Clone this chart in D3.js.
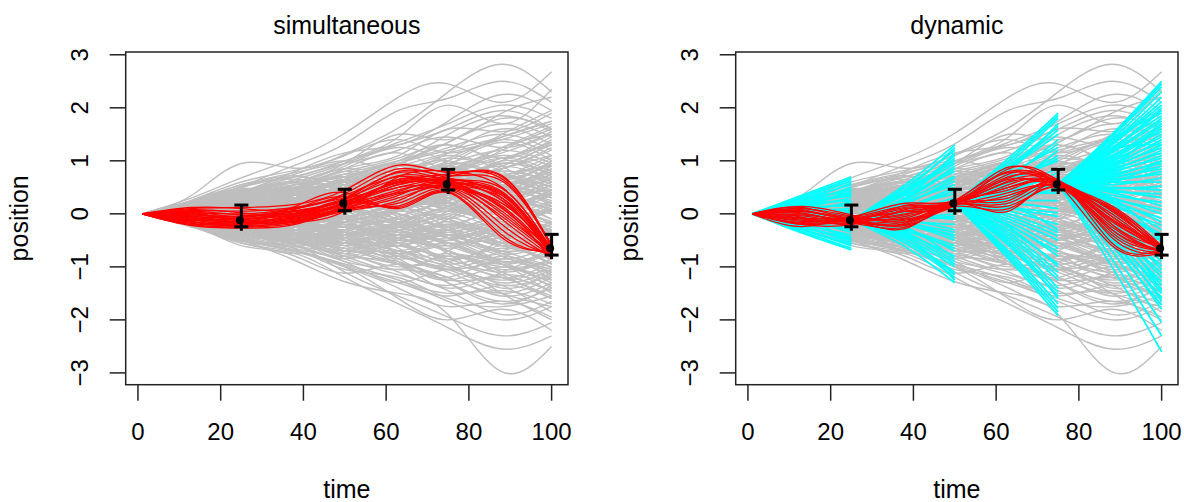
<!DOCTYPE html>
<html>
<head>
<meta charset="utf-8">
<script src="https://cdn.jsdelivr.net/npm/d3@7"></script>
<style>
  html, body { margin: 0; padding: 0; background: #fff; }
  svg { display: block; }
  text { font-family: "Liberation Sans", Arial, sans-serif; fill: #000; }
</style>
</head>
<body>
<svg id="chart" width="1184" height="502"></svg>
<script>
// ---------------- DATA ----------------
const panelTitles = ["simultaneous", "dynamic"];
const xLabel = "time";
const yLabel = "position";
const xTicks = [0, 20, 40, 60, 80, 100];
const yTicks = [-3, -2, -1, 0, 1, 2, 3];
const timeRange = [1, 100];
const positionRange = [-2.99, 2.82];

// knot times of every trajectory (value at time 1 is the start value)
const knotTimes = [1, 13, 25, 38, 50, 63, 75, 88, 100];
const startValue = 0;

// grey simulated trajectories: values at times 13,25,38,50,63,75,88,100
const grayCurves = [
[0.35,0.95,0.86,1.12,1.62,2.3,2.82,2.3],
[0.3,0.68,1.05,1.52,2.2,2.45,2.1,2.68],
[0.24,0.52,0.92,1.32,1.95,2.18,2.5,2.1],
[0.2,0.55,0.7,1.0,1.45,2.05,1.7,2.35],
[0.18,0.42,0.8,1.15,1.3,1.75,2.25,1.95],
[0.15,0.38,0.6,0.95,1.5,1.4,1.9,2.2],
[0.22,0.46,0.5,0.85,1.1,1.6,1.55,1.9],
[0.12,0.3,0.55,0.7,1.0,1.35,1.8,1.6],
[0.1,0.35,0.4,0.6,0.95,1.2,1.45,1.75],
[0.16,0.25,0.48,0.75,0.8,1.15,1.6,1.3],
[0.08,0.28,0.35,0.55,0.9,0.85,1.25,1.5],
[0.14,0.2,0.42,0.45,0.7,1.05,0.95,1.35],
[0.05,0.22,0.3,0.62,0.6,0.8,1.1,0.9],
[0.11,0.18,0.25,0.4,0.75,0.7,0.85,1.2],
[0.06,0.15,0.38,0.3,0.5,0.9,0.65,1.0],
[0.09,0.26,0.2,0.35,0.42,0.6,0.95,0.75],
[0.03,0.12,0.22,0.5,0.35,0.55,0.7,0.5],
[0.07,0.1,0.15,0.25,0.55,0.4,0.5,0.85],
[0.02,0.08,0.28,0.2,0.3,0.65,0.4,0.6],
[0.04,0.16,0.1,0.3,0.2,0.3,0.55,0.3],
[-0.02,0.05,0.18,0.1,0.25,0.15,0.3,0.45],
[0.01,-0.04,0.08,0.22,0.1,0.35,0.2,0.15],
[-0.05,0.02,-0.05,0.05,0.28,0.1,0.05,0.35],
[0.03,-0.08,0.1,-0.1,0.05,0.2,-0.1,0.1],
[-0.06,-0.1,-0.02,0.12,-0.15,0.0,0.15,-0.2],
[-0.03,-0.12,-0.2,-0.05,0.0,-0.25,-0.05,0.05],
[-0.08,-0.05,-0.15,-0.25,-0.1,-0.05,-0.35,-0.15],
[-0.1,-0.18,-0.1,-0.2,-0.4,-0.3,-0.2,-0.5],
[-0.04,-0.2,-0.3,-0.15,-0.3,-0.55,-0.45,-0.3],
[-0.12,-0.15,-0.35,-0.4,-0.25,-0.45,-0.7,-0.6],
[-0.07,-0.25,-0.25,-0.5,-0.6,-0.4,-0.6,-0.85],
[-0.14,-0.3,-0.45,-0.35,-0.55,-0.8,-0.75,-0.55],
[-0.09,-0.22,-0.4,-0.6,-0.5,-0.7,-1.0,-0.9],
[-0.16,-0.35,-0.38,-0.55,-0.85,-0.75,-0.95,-1.2],
[-0.11,-0.28,-0.5,-0.7,-0.75,-1.05,-0.9,-1.1],
[-0.18,-0.4,-0.55,-0.65,-0.95,-1.0,-1.3,-1.05],
[-0.13,-0.32,-0.48,-0.8,-0.9,-1.25,-1.2,-1.45],
[-0.2,-0.45,-0.62,-0.75,-1.1,-1.35,-1.15,-1.35],
[-0.15,-0.38,-0.58,-0.9,-1.05,-1.2,-1.55,-1.3],
[-0.22,-0.5,-0.7,-0.95,-1.25,-1.5,-1.45,-1.7],
[-0.17,-0.42,-0.66,-1.05,-1.2,-1.6,-1.75,-1.55],
[-0.24,-0.55,-0.72,-1.0,-1.4,-1.75,-1.65,-1.95],
[-0.2,-0.6,-0.75,-1.2,-1.7,-2.15,-2.55,-2.3],
[-0.25,-0.5,-0.88,-1.28,-1.5,-1.9,-2.98,-2.5],
[-0.15,-0.45,-0.7,-1.0,-1.6,-2.0,-1.8,-2.2],
[-0.18,-0.52,-0.6,-1.1,-1.55,-1.95,-2.3,-2.05],
[0.2,0.3,0.1,0.4,0.9,1.3,0.9,0.4],
[-0.1,0.1,0.45,0.8,0.6,0.2,-0.3,-0.6],
[0.15,0.5,0.65,0.4,0.0,-0.45,-0.9,-1.3],
[-0.2,-0.35,-0.1,0.3,0.75,1.05,1.4,1.1],
[0.05,-0.2,-0.45,-0.3,0.1,0.6,1.0,1.45],
[0.18,0.4,0.25,-0.1,-0.5,-0.4,-0.75,-1.0],
[-0.12,-0.3,-0.6,-0.8,-0.5,-0.1,0.35,0.65],
[0.1,0.22,0.55,0.9,1.25,0.95,0.6,0.85],
[-0.05,-0.25,-0.15,-0.5,-0.95,-1.4,-1.1,-0.75],
[0.25,0.45,0.3,0.6,0.45,0.8,1.25,1.65],
[-0.15,-0.1,0.2,0.05,-0.3,-0.7,-1.15,-1.6],
[0.08,0.35,0.6,0.3,0.55,0.25,-0.2,0.1],
[-0.22,-0.45,-0.3,-0.7,-0.45,-0.85,-0.5,-0.2],
[0.12,-0.05,0.15,0.5,0.8,0.55,0.95,0.6],
[-0.08,0.15,-0.1,-0.35,-0.2,0.3,0.1,-0.35],
[0.2,0.15,0.4,0.2,-0.2,0.05,0.5,0.95],
[-0.18,-0.25,-0.5,-0.25,-0.65,-1.0,-1.35,-1.85],
[0.14,0.45,0.4,0.7,1.0,1.5,1.85,1.55],
[-0.05,-0.3,-0.55,-0.4,-0.85,-1.3,-1.65,-1.4],
[0.03,0.25,0.05,-0.25,-0.55,-0.9,-0.6,-0.95],
[-0.1,0.05,0.3,0.65,0.5,0.9,1.35,1.0],
[0.17,0.3,0.55,0.85,1.15,0.85,1.2,1.6],
[-0.14,-0.4,-0.25,0.1,0.4,0.2,-0.15,-0.5],
[0.06,0.2,-0.1,-0.3,0.05,0.45,0.8,0.55],
[-0.2,-0.35,-0.65,-0.9,-1.3,-1.05,-1.5,-2.0],
[0.1,0.38,0.7,0.55,0.75,1.1,0.8,0.35],
[-0.03,-0.15,0.1,0.35,0.1,-0.3,-0.55,-0.25],
[0.22,0.5,0.75,1.0,0.7,0.35,0.5,0.15],
[-0.16,-0.2,-0.42,-0.7,-1.0,-0.7,-0.3,-0.6],
[0.0,0.1,0.35,0.15,0.45,0.75,1.05,1.3],
[-0.12,-0.42,-0.35,-0.6,-0.35,-0.6,-0.95,-1.5],
[0.13,0.05,0.25,0.55,0.35,0.6,0.3,-0.1],
[-0.07,0.12,0.0,-0.2,-0.45,-0.25,0.1,0.4],
[0.19,0.35,0.15,0.45,0.85,0.6,0.25,0.55],
[-0.2,-0.25,-0.55,-0.45,-0.2,-0.45,-0.8,-1.15],
[0.09,0.3,0.45,0.25,0.65,1.0,1.5,1.95],
[-0.1,-0.35,-0.2,-0.45,-0.75,-0.55,-0.9,-0.65],
[0.05,-0.1,-0.3,-0.55,-0.4,-0.75,-1.2,-0.9],
[0.16,0.2,0.5,0.35,0.1,0.4,0.7,1.1],
[-0.13,-0.08,-0.3,-0.1,0.2,0.5,0.25,0.7],
[0.02,0.18,0.4,0.75,0.55,0.35,0.65,0.95],
[-0.19,-0.48,-0.75,-0.55,-0.9,-1.2,-0.85,-1.25],
[0.11,0.1,-0.15,0.0,0.35,0.15,-0.25,-0.6],
[-0.04,-0.18,-0.05,-0.35,-0.15,0.15,0.45,0.2],
[0.21,0.4,0.62,0.45,0.2,0.55,0.85,1.25],
[-0.11,-0.22,-0.4,-0.2,-0.5,-0.3,0.05,-0.4],
[0.07,0.32,0.18,0.42,0.25,-0.1,-0.45,-0.8],
[-0.17,-0.32,-0.15,-0.4,-0.7,-0.95,-1.4,-1.1],
[0.13,0.28,0.5,0.8,1.05,1.3,1.05,1.4],
[-0.06,0.08,0.2,-0.05,-0.35,-0.15,-0.5,-0.95],
[0.04,-0.12,-0.35,-0.15,0.15,-0.1,0.25,0.0],
[-0.21,-0.4,-0.2,-0.5,-0.8,-1.1,-1.5,-1.75],
[0.17,0.42,0.25,0.55,0.95,1.35,1.7,1.45],
[-0.09,-0.15,0.05,0.3,0.6,0.35,0.0,-0.3],
[0.1,0.15,0.3,0.1,-0.15,-0.5,-0.25,-0.7],
[-0.15,-0.28,-0.48,-0.3,-0.05,0.25,0.6,0.9],
[0.2,0.35,0.35,0.65,0.5,0.7,0.45,0.75],
[-0.02,-0.22,-0.1,0.15,0.4,0.7,0.55,0.2],
[0.06,0.05,-0.2,-0.45,-0.7,-0.45,-0.75,-1.05],
[-0.13,-0.05,0.1,-0.15,0.05,-0.25,-0.6,-0.4],
[0.15,0.32,0.48,0.6,0.9,0.65,1.0,0.7],
[-0.2,-0.45,-0.5,-0.85,-0.6,-0.95,-1.25,-1.0],
[0.0,0.2,0.15,-0.1,0.15,0.45,0.3,0.55],
[-0.07,-0.28,-0.45,-0.65,-0.95,-1.25,-1.0,-1.4],
[0.12,0.25,0.05,0.2,0.45,0.25,0.6,0.35],
[-0.1,-0.05,-0.25,-0.45,-0.25,-0.55,-0.3,0.1],
[0.18,0.38,0.65,0.95,1.35,1.7,2.05,1.8],
[-0.16,-0.38,-0.52,-0.85,-1.15,-1.45,-1.9,-1.65],
[0.08,0.1,0.28,0.5,0.3,0.05,0.35,0.65],
[-0.05,-0.2,-0.4,-0.25,-0.45,-0.2,-0.45,-0.75],
[0.26,0.6,0.82,1.1,1.4,1.15,1.45,1.75],
[-0.23,-0.55,-0.8,-1.12,-0.95,-1.3,-1.7,-1.35],
[0.14,0.12,0.35,0.2,0.6,0.95,0.75,0.45],
[-0.12,-0.3,-0.15,0.05,-0.2,-0.5,-0.2,-0.45],
[0.1,0.2,0.05,0.25,0.5,0.3,0.7,0.9],
[-0.1,-0.05,0.2,0.4,0.2,0.55,0.35,0.1],
[0.05,0.3,0.5,0.35,0.7,0.95,1.2,0.95],
[-0.05,-0.25,-0.1,-0.4,-0.2,0.1,-0.25,-0.55],
[0.15,0.1,0.3,0.6,0.4,0.2,0.45,0.2],
[-0.15,-0.35,-0.2,0.0,0.3,0.1,0.4,0.75],
[0.08,0.25,0.1,-0.15,-0.4,-0.2,-0.55,-0.3],
[-0.08,0.05,-0.2,-0.05,-0.35,-0.65,-0.45,-0.8],
[0.2,0.4,0.3,0.5,0.8,1.0,0.75,1.05],
[-0.2,-0.3,-0.5,-0.35,-0.6,-0.4,-0.75,-0.5],
[0.0,-0.1,0.15,-0.05,0.2,0.5,0.8,0.6],
[0.12,0.28,0.45,0.7,0.5,0.75,0.55,0.9],
[-0.12,-0.2,-0.38,-0.6,-0.8,-0.6,-0.95,-1.25],
[0.04,0.18,-0.05,0.15,0.45,0.65,0.4,0.15],
[-0.04,-0.15,0.05,-0.2,0.0,-0.3,-0.1,0.25],
[0.16,0.35,0.55,0.45,0.25,0.5,0.2,-0.15],
[-0.16,-0.4,-0.3,-0.55,-0.4,-0.7,-1.05,-0.85],
[0.06,-0.05,-0.25,-0.1,-0.4,-0.1,0.2,-0.1],
[-0.06,0.1,0.25,0.5,0.8,0.6,0.9,1.3],
[0.18,0.22,0.05,0.3,0.15,-0.15,-0.4,-0.15],
[-0.18,-0.3,-0.45,-0.7,-0.55,-0.85,-0.65,-0.95],
[0.1,0.35,0.25,0.05,0.3,0.1,0.45,0.8],
[-0.1,-0.32,-0.55,-0.35,-0.15,-0.4,-0.2,-0.6],
[0.02,0.12,0.3,0.55,0.75,0.5,0.2,0.45],
[-0.02,0.08,-0.12,-0.35,-0.6,-0.85,-1.1,-0.85],
[0.14,0.3,0.15,0.35,0.6,0.85,0.6,0.3],
[-0.14,-0.18,0.0,0.2,0.0,-0.2,0.1,0.35],
[0.07,0.15,0.35,0.2,-0.05,-0.35,-0.1,-0.45],
[-0.07,-0.22,-0.05,0.25,0.5,0.75,1.05,0.8],
[0.22,0.48,0.4,0.65,0.95,0.7,1.0,1.35],
[-0.22,-0.42,-0.62,-0.45,-0.75,-1.05,-0.8,-1.15],
[0.09,0.05,0.2,0.0,-0.25,0.0,-0.35,-0.6],
[-0.09,-0.1,-0.3,-0.5,-0.3,-0.05,0.3,0.05],
[0.13,0.4,0.6,0.85,0.65,0.4,0.7,0.5],
[-0.13,-0.28,-0.15,-0.35,-0.6,-0.35,-0.6,-0.3],
[0.05,0.2,0.4,0.25,0.5,0.3,0.1,0.4],
[-0.05,-0.12,-0.3,-0.15,0.1,0.35,0.15,-0.15],
[0.17,0.25,0.45,0.75,1.0,1.25,1.5,1.2],
[-0.17,-0.35,-0.55,-0.8,-1.05,-0.8,-1.1,-1.45],
[0.01,0.1,-0.08,0.1,0.35,0.55,0.85,1.1],
[-0.01,-0.08,0.12,0.35,0.15,-0.1,-0.4,-0.7],
[0.11,0.32,0.2,-0.05,0.2,0.4,0.15,0.45],
[-0.11,-0.25,-0.4,-0.2,-0.45,-0.7,-0.95,-0.7],
[0.19,0.45,0.35,0.6,0.4,0.65,0.9,0.65],
[-0.19,-0.38,-0.25,-0.5,-0.75,-0.5,-0.3,-0.55],
[0.03,-0.08,0.1,0.3,0.05,0.3,0.6,0.35],
[-0.03,0.12,0.3,0.15,-0.1,-0.3,-0.05,-0.35],
[0.15,0.38,0.58,0.4,0.6,0.9,1.15,1.5],
[-0.15,-0.3,-0.5,-0.75,-0.95,-1.2,-1.5,-1.2],
[0.08,0.22,0.08,0.3,0.55,0.4,0.65,0.5],
[-0.08,-0.18,-0.35,-0.15,-0.35,-0.6,-0.4,-0.7],
[0.12,0.2,0.35,0.15,0.35,0.15,-0.1,0.2],
[-0.12,-0.1,-0.2,-0.4,-0.25,0.05,-0.15,0.15],
[0.2,0.42,0.7,0.95,1.2,1.45,1.25,1.55],
[-0.2,-0.48,-0.68,-0.95,-1.25,-1.55,-1.35,-1.6],
[0.06,0.0,0.2,0.45,0.65,0.9,0.6,0.85],
[-0.06,-0.2,-0.45,-0.65,-0.45,-0.2,-0.55,-0.85],
[0.1,0.28,0.5,0.7,0.45,0.2,-0.05,-0.35],
[-0.1,-0.28,-0.1,0.1,-0.1,-0.4,-0.7,-1.0],
[0.04,0.15,0.0,0.2,0.4,0.2,0.5,0.3],
[-0.04,-0.2,-0.05,-0.25,-0.05,0.2,0.0,-0.25],
[0.16,0.3,0.5,0.3,0.55,0.8,0.55,0.8],
[-0.16,-0.3,-0.2,-0.45,-0.7,-0.95,-0.7,-0.45],
[0.09,0.3,0.2,0.45,0.3,0.05,0.3,0.05],
[-0.09,-0.25,-0.45,-0.3,-0.55,-0.3,-0.55,-0.3],
[0.14,0.18,0.4,0.65,0.9,1.15,1.4,1.7],
[-0.14,-0.32,-0.52,-0.75,-0.6,-0.9,-1.2,-1.55],
[0.0,0.15,0.3,0.1,-0.15,0.1,-0.2,-0.5],
[0.02,-0.15,-0.35,-0.55,-0.8,-1.05,-1.35,-1.15],
[0.18,0.5,0.72,0.6,0.85,0.6,0.35,0.6],
[-0.18,-0.4,-0.2,0.05,0.35,0.6,0.4,0.7],
[0.07,0.28,0.45,0.65,0.95,0.75,0.5,0.25],
[-0.07,-0.15,-0.35,-0.55,-0.3,-0.55,-0.85,-0.6],
[0.13,0.35,0.2,0.4,0.2,0.45,0.25,0.0],
[-0.13,-0.35,-0.55,-0.4,-0.2,-0.45,-0.25,0.05],
[0.05,0.25,0.45,0.3,0.1,0.35,0.6,0.4],
[-0.05,-0.1,0.1,0.3,0.55,0.3,0.05,-0.2],
[0.24,0.55,0.78,1.0,1.3,1.6,1.95,1.6],
[-0.24,-0.5,-0.7,-0.98,-1.3,-1.65,-2.0,-1.75],
[0.11,0.05,-0.15,-0.35,-0.6,-0.35,-0.6,-0.35]
];

// red accepted trajectories, "simultaneous" panel (times 13..100)
const redSimultaneous = [
[0.1,0.12,0.18,0.45,0.92,0.78,0.7,-0.6],
[0.06,0.05,0.12,0.38,0.85,0.72,0.62,-0.62],
[0.12,0.1,0.05,0.3,0.78,0.65,0.48,-0.68],
[0.02,0.0,0.1,0.35,0.7,0.6,0.4,-0.7],
[-0.02,-0.05,0.05,0.28,0.65,0.58,0.35,-0.65],
[0.05,-0.02,0.0,0.22,0.6,0.55,0.3,-0.72],
[-0.05,-0.08,-0.02,0.2,0.55,0.62,0.25,-0.75],
[-0.08,-0.1,0.02,0.18,0.5,0.5,0.2,-0.68],
[0.0,-0.12,-0.05,0.15,0.45,0.56,0.15,-0.74],
[-0.1,-0.15,-0.08,0.12,0.42,0.6,0.1,-0.7],
[-0.12,-0.18,-0.1,0.1,0.38,0.52,0.05,-0.78],
[-0.15,-0.2,-0.12,0.08,0.35,0.58,0.0,-0.72],
[-0.18,-0.22,-0.15,0.06,0.3,0.5,-0.05,-0.76],
[-0.2,-0.25,-0.18,0.05,0.25,0.55,-0.1,-0.8],
[-0.22,-0.27,-0.2,0.1,0.2,0.48,-0.2,-0.82],
[-0.16,-0.2,-0.05,0.25,0.15,0.45,-0.3,-0.78],
[-0.06,-0.14,0.08,0.32,0.12,0.42,-0.4,-0.75],
[0.04,-0.06,0.14,0.4,0.1,0.4,-0.45,-0.7],
[-0.04,-0.16,-0.14,0.15,0.55,0.7,0.72,-0.62],
[0.08,0.02,-0.04,0.2,0.62,0.75,0.66,-0.58],
[-0.14,-0.24,-0.16,0.05,0.7,0.8,0.5,-0.66],
[-0.1,-0.2,0.0,0.28,0.8,0.68,0.35,-0.7],
[0.0,-0.1,0.06,0.24,0.6,0.62,0.25,-0.73],
[-0.02,-0.04,0.1,0.3,0.5,0.66,0.3,-0.8],
[-0.08,-0.18,-0.1,0.18,0.4,0.5,0.12,-0.85],
[0.03,-0.14,-0.06,0.22,0.58,0.54,0.2,-0.64],
[-0.12,-0.06,0.04,0.26,0.72,0.64,0.42,-0.76],
[-0.2,-0.12,-0.04,0.12,0.65,0.6,0.38,-0.68]
];

// red accepted trajectories, "dynamic" panel (times 13..100)
const redDynamic = [
[0.12,-0.05,0.15,0.25,0.88,0.6,0.15,-0.6],
[0.08,-0.1,0.1,0.22,0.8,0.58,0.1,-0.62],
[0.05,-0.08,0.05,0.2,0.7,0.62,0.05,-0.66],
[0.0,-0.12,0.0,0.18,0.6,0.55,0.0,-0.7],
[-0.04,-0.14,-0.05,0.2,0.5,0.57,-0.05,-0.64],
[-0.08,-0.1,-0.1,0.16,0.4,0.52,-0.12,-0.68],
[-0.12,-0.16,-0.15,0.22,0.3,0.6,-0.2,-0.72],
[-0.16,-0.12,-0.2,0.18,0.2,0.55,-0.3,-0.7],
[-0.2,-0.18,-0.25,0.14,0.1,0.5,-0.4,-0.74],
[-0.24,-0.14,-0.28,0.2,0.05,0.56,-0.55,-0.68],
[-0.1,-0.06,0.2,0.24,0.75,0.64,-0.1,-0.6],
[0.02,-0.16,-0.12,0.15,0.65,0.5,0.12,-0.66],
[-0.06,-0.2,0.08,0.2,0.55,0.58,-0.25,-0.72],
[0.1,-0.04,-0.08,0.26,0.45,0.6,-0.35,-0.7],
[-0.14,-0.1,0.12,0.18,0.35,0.54,0.05,-0.62],
[-0.02,-0.14,-0.18,0.22,0.25,0.58,-0.45,-0.76],
[0.06,-0.08,0.04,0.16,0.85,0.62,-0.15,-0.66],
[-0.18,-0.12,-0.02,0.2,0.15,0.52,-0.05,-0.7],
[-0.08,-0.16,0.16,0.24,0.68,0.56,-0.6,-0.74],
[0.04,-0.1,-0.22,0.18,0.5,0.6,-0.2,-0.64],
[-0.2,-0.2,0.05,0.2,0.62,0.58,-0.3,-0.68],
[0.14,-0.02,-0.15,0.24,0.78,0.54,0.08,-0.72]
];

// cyan proposal trajectories of the dynamic panel, per segment
const cyanSegmentTimes = [[1, 13, 25], [25, 38, 50], [50, 63, 75], [75, 88, 100]];
const cyanSegmentStart = [0, -0.12, 0.2, 0.56];
// each entry: [value at middle time, value at end time]
const cyanSegment1 = [[0.35,0.7],[0.3,0.62],[0.28,0.55],[0.2,0.5],[0.25,0.45],[0.15,0.4],[0.22,0.36],[0.12,0.3],[0.18,0.25],[0.08,0.2],[0.12,0.15],[0.05,0.1],[0.08,0.05],[0.0,0.0],[0.03,-0.05],[-0.05,-0.1],[-0.02,-0.15],[-0.1,-0.2],[-0.06,-0.25],[-0.15,-0.3],[-0.12,-0.35],[-0.2,-0.4],[-0.18,-0.45],[-0.25,-0.5],[-0.22,-0.55],[-0.3,-0.6],[-0.33,-0.65],[-0.36,-0.68],[0.1,0.48],[-0.08,-0.52],[0.32,0.66],[0.24,0.58],[0.16,0.42],[0.06,0.22],[-0.04,0.03],[-0.14,-0.28],[-0.24,-0.47],[-0.28,-0.58],[0.2,0.34],[-0.1,-0.12]];
const cyanSegment2 = [[0.55,1.3],[0.5,1.2],[0.4,1.1],[0.45,1.0],[0.3,0.9],[0.35,0.8],[0.25,0.72],[0.2,0.62],[0.22,0.55],[0.1,0.45],[0.15,0.38],[0.05,0.3],[0.0,0.2],[0.02,0.1],[-0.08,0.0],[-0.05,-0.1],[-0.15,-0.2],[-0.12,-0.3],[-0.22,-0.4],[-0.2,-0.5],[-0.3,-0.6],[-0.28,-0.7],[-0.38,-0.8],[-0.35,-0.9],[-0.45,-1.0],[-0.5,-1.1],[-0.55,-1.2],[-0.62,-1.3],[0.3,1.15],[-0.42,-1.25],[0.4,0.95],[-0.25,-0.85],[0.45,1.25],[0.38,1.05],[0.28,0.85],[0.12,0.5],[-0.02,0.25],[-0.1,-0.05],[-0.18,-0.35],[-0.32,-0.65],[-0.4,-0.95],[-0.5,-1.15],[0.18,0.68],[-0.15,-0.45]];
const cyanSegment3 = [[1.05,1.9],[0.95,1.8],[0.9,1.65],[0.85,1.5],[0.7,1.4],[0.75,1.25],[0.6,1.1],[0.65,1.0],[0.5,0.85],[0.45,0.7],[0.4,0.55],[0.35,0.4],[0.25,0.25],[0.2,0.1],[0.1,-0.05],[0.05,-0.2],[0.0,-0.35],[-0.1,-0.5],[-0.15,-0.65],[-0.2,-0.8],[-0.3,-0.95],[-0.35,-1.1],[-0.45,-1.25],[-0.5,-1.4],[-0.6,-1.55],[-0.7,-1.7],[-0.8,-1.85],[-0.85,-1.92],[0.8,1.7],[-0.55,-1.6],[0.55,1.2],[-0.25,-1.0],[0.3,0.6],[0.15,-0.3],[1.0,1.85],[0.88,1.58],[0.72,1.32],[0.58,1.05],[0.42,0.78],[0.28,0.48],[0.12,0.02],[-0.05,-0.42],[-0.22,-0.72],[-0.4,-1.18],[-0.55,-1.48],[-0.75,-1.78]];
const cyanSegment4 = [[1.5,2.5],[1.45,2.4],[1.35,2.2],[1.3,2.05],[1.2,1.95],[1.25,1.85],[1.15,1.75],[1.05,1.65],[1.1,1.55],[1.0,1.45],[0.95,1.35],[0.9,1.25],[0.85,1.15],[0.8,1.05],[0.75,0.95],[0.7,0.85],[0.65,0.75],[0.6,0.6],[0.5,0.45],[0.45,0.3],[0.4,0.15],[0.3,0.0],[0.25,-0.15],[0.2,-0.3],[0.1,-0.45],[0.05,-0.6],[0.0,-0.75],[-0.1,-0.9],[-0.15,-1.05],[-0.25,-1.2],[-0.3,-1.35],[-0.4,-1.5],[-0.45,-1.65],[-0.55,-1.8],[-0.7,-2.05],[-0.85,-2.3],[-1.0,-2.6],[1.4,1.9],[0.9,1.7],[0.3,-0.5],[-0.2,-1.45],[1.2,1.3],[0.6,1.0],[-0.5,-1.6],[1.48,2.45],[1.4,2.3],[1.32,2.12],[1.22,2.0],[1.18,1.8],[1.08,1.7],[1.02,1.6],[0.98,1.5],[0.92,1.4],[0.88,1.3],[0.82,1.2],[0.78,1.1],[0.72,1.0],[0.68,0.9],[0.62,0.8],[0.55,0.68],[0.48,0.52],[0.42,0.38],[0.35,0.22],[0.28,0.08],[0.22,-0.08],[0.15,-0.22],[0.08,-0.38],[0.02,-0.52],[-0.05,-0.68],[-0.12,-0.82],[-0.2,-0.98],[-0.28,-1.12],[-0.35,-1.28],[-0.42,-1.42],[-0.5,-1.58],[-0.6,-1.72]];

// observed data with error bars
const obsTimes = [25, 50, 75, 100];
const obsMean  = [-0.12, 0.2, 0.56, -0.65];
const obsUpper = [0.166, 0.463, 0.84, -0.387];
const obsLower = [-0.244, 0.059, 0.45, -0.778];

// ---------------- DRAWING ----------------
const svg = d3.select("#chart");
const boxW = 442.3, boxTop = 52, boxBottom = 384.7;
const panelLeft = [125.7, 735.7];
const colGray = "#BEBEBE", colRed = "#FF0000", colCyan = "#00FFFF";

const xPad = (timeRange[1] - timeRange[0]) * 0.04;
const yPad = (positionRange[1] - positionRange[0]) * 0.04;

const toPoints = (vals, times, start) => {
  const pts = [[times[0], start]];
  vals.forEach((v, i) => pts.push([times[i + 1], v]));
  return pts;
};
const cyanSegments = [cyanSegment1, cyanSegment2, cyanSegment3, cyanSegment4];

panelTitles.forEach((title, p) => {
  const left = panelLeft[p];
  const x = d3.scaleLinear().domain([timeRange[0] - xPad, timeRange[1] + xPad]).range([left, left + boxW]);
  const y = d3.scaleLinear().domain([positionRange[0] - yPad, positionRange[1] + yPad]).range([boxBottom, boxTop]);
  const line = d3.line().x(d => x(d[0])).y(d => y(d[1])).curve(d3.curveNatural);

  const g = svg.append("g");
  const clipId = "clip" + p;
  svg.append("defs").append("clipPath").attr("id", clipId)
    .append("rect").attr("x", left).attr("y", boxTop).attr("width", boxW).attr("height", boxBottom - boxTop);
  const plot = g.append("g").attr("clip-path", `url(#${clipId})`);

  // grey trajectories
  plot.append("g").selectAll("path").data(grayCurves).join("path")
    .attr("d", c => line(toPoints(c, knotTimes, startValue)))
    .attr("fill", "none").attr("stroke", colGray).attr("stroke-width", 1.4);

  // cyan proposals (dynamic only)
  if (p === 1) {
    cyanSegments.forEach((seg, s) => {
      plot.append("g").selectAll("path").data(seg).join("path")
        .attr("d", c => line(toPoints(c, cyanSegmentTimes[s], cyanSegmentStart[s])))
        .attr("fill", "none").attr("stroke", colCyan).attr("stroke-width", 1.8);
    });
  }

  // red accepted trajectories
  const reds = p === 0 ? redSimultaneous : redDynamic;
  plot.append("g").selectAll("path").data(reds).join("path")
    .attr("d", c => line(toPoints(c, knotTimes, startValue)))
    .attr("fill", "none").attr("stroke", colRed).attr("stroke-width", 1.3);

  // error bars
  const eb = g.append("g").attr("stroke", "#000").attr("stroke-width", 3);
  obsTimes.forEach((t, i) => {
    const cx = x(t);
    eb.append("line").attr("x1", cx).attr("x2", cx).attr("y1", y(obsUpper[i])).attr("y2", y(obsLower[i]) + 4);
    eb.append("line").attr("x1", cx - 7).attr("x2", cx + 7).attr("y1", y(obsUpper[i])).attr("y2", y(obsUpper[i]));
    eb.append("line").attr("x1", cx - 7).attr("x2", cx + 7).attr("y1", y(obsLower[i])).attr("y2", y(obsLower[i]));
    g.append("circle").attr("cx", cx - 1.5).attr("cy", y(obsMean[i])).attr("r", 4).attr("fill", "#000");
  });

  // box
  g.append("rect").attr("x", left).attr("y", boxTop).attr("width", boxW).attr("height", boxBottom - boxTop)
    .attr("fill", "none").attr("stroke", "#222").attr("stroke-width", 1.5);

  // x axis ticks
  const ax = g.append("g");
  xTicks.forEach(t => {
    ax.append("line").attr("x1", x(t)).attr("x2", x(t)).attr("y1", boxBottom).attr("y2", boxBottom + 16)
      .attr("stroke", "#222").attr("stroke-width", 1.5);
    ax.append("text").attr("x", x(t)).attr("y", 440).attr("text-anchor", "middle")
      .attr("font-size", 24).text(t);
  });
  // y axis ticks
  yTicks.forEach(v => {
    ax.append("line").attr("x1", left - 16).attr("x2", left).attr("y1", y(v)).attr("y2", y(v))
      .attr("stroke", "#222").attr("stroke-width", 1.5);
    const tx = left - 37.5;
    ax.append("text").attr("x", tx).attr("y", y(v)).attr("text-anchor", "middle")
      .attr("transform", `rotate(-90,${tx},${y(v)})`)
      .attr("font-size", 24).text(v < 0 ? "\u2212" + Math.abs(v) : String(v));
  });

  // labels
  const cx = left + boxW / 2;
  g.append("text").attr("x", cx).attr("y", 34).attr("text-anchor", "middle").attr("font-size", 25).text(title);
  g.append("text").attr("x", cx).attr("y", 498).attr("text-anchor", "middle").attr("font-size", 25).text(xLabel);
  const ly = (boxTop + boxBottom) / 2, lx = left - 97.5;
  g.append("text").attr("x", lx).attr("y", ly).attr("text-anchor", "middle")
    .attr("transform", `rotate(-90,${lx},${ly})`).attr("font-size", 25).text(yLabel);
});
</script>
</body>
</html>
